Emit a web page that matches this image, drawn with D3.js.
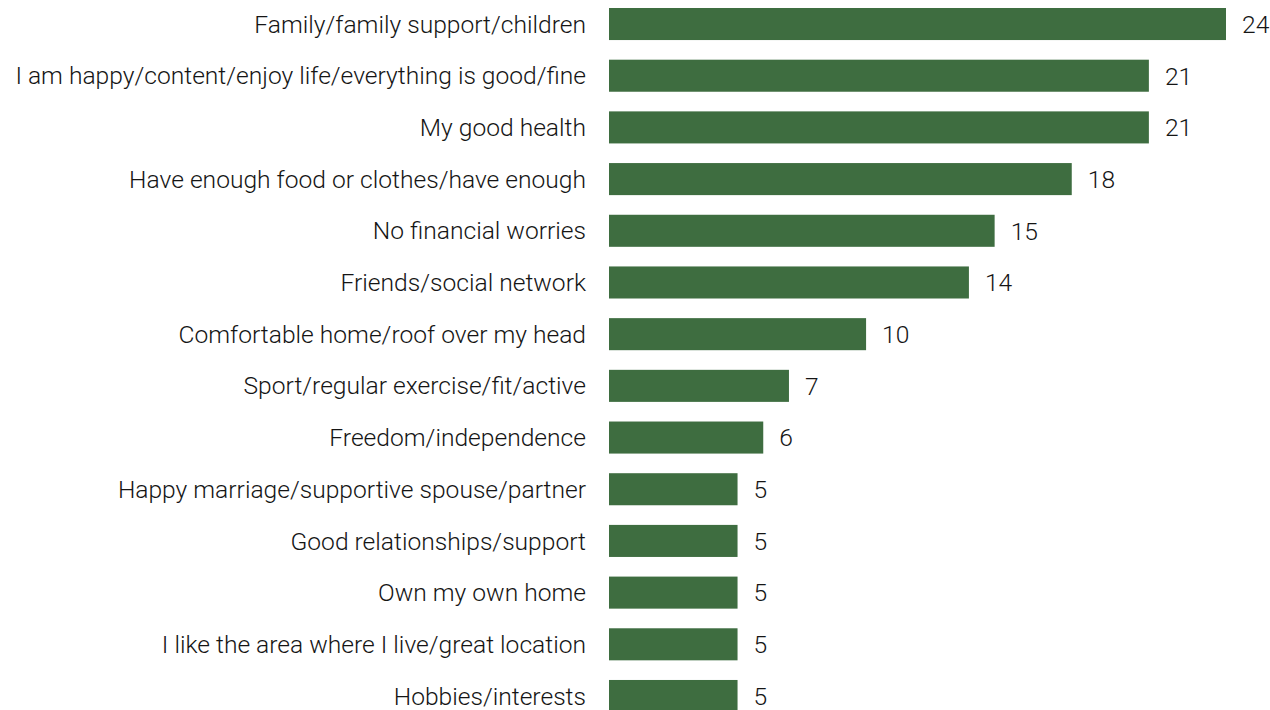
<!DOCTYPE html>
<html>
<head>
<meta charset="utf-8">
<script src="https://cdn.jsdelivr.net/npm/d3@7"></script>
<style>
  html, body { margin: 0; padding: 0; background: #ffffff; }
  svg { display: block; }
  text { font-family: "Roboto", "Liberation Sans", sans-serif; font-weight: 300; fill: #151515; }
</style>
</head>
<body>
<svg id="chart" width="1270" height="710"></svg>
<script>
const categories = [
  "Family/family support/children",
  "I am happy/content/enjoy life/everything is good/fine",
  "My good health",
  "Have enough food or clothes/have enough",
  "No financial worries",
  "Friends/social network",
  "Comfortable home/roof over my head",
  "Sport/regular exercise/fit/active",
  "Freedom/independence",
  "Happy marriage/supportive spouse/partner",
  "Good relationships/support",
  "Own my own home",
  "I like the area where I live/great location",
  "Hobbies/interests"
];
const values = [24, 21, 21, 18, 15, 14, 10, 7, 6, 5, 5, 5, 5, 5];

const svg = d3.select("#chart");

const x = d3.scaleLinear().domain([0, 24]).range([609, 1226]);
const y = d3.scaleBand()
  .domain(categories)
  .range([-1.82, 721.84])
  .paddingInner(0.38)
  .paddingOuter(0.19);

const barColor = "#3e6d40";

// bars
svg.append("g").selectAll("rect")
  .data(categories)
  .join("rect")
  .attr("x", x(0))
  .attr("y", d => y(d))
  .attr("width", (d, i) => x(values[i]) - x(0))
  .attr("height", y.bandwidth())
  .attr("fill", barColor);

// category labels
svg.append("g").selectAll("text")
  .data(categories)
  .join("text")
  .attr("x", 586)
  .attr("y", d => y(d) + y.bandwidth() / 2)
  .attr("dy", "0.35em")
  .attr("text-anchor", "end")
  .attr("font-size", 24.6)
  .text(d => d);

// value labels
svg.append("g").selectAll("text")
  .data(categories)
  .join("text")
  .attr("x", (d, i) => x(values[i]) + 16)
  .attr("y", d => y(d) + y.bandwidth() / 2)
  .attr("dy", "0.36em")
  .attr("font-size", 24.6)
  .text((d, i) => values[i]);
</script>
</body>
</html>
